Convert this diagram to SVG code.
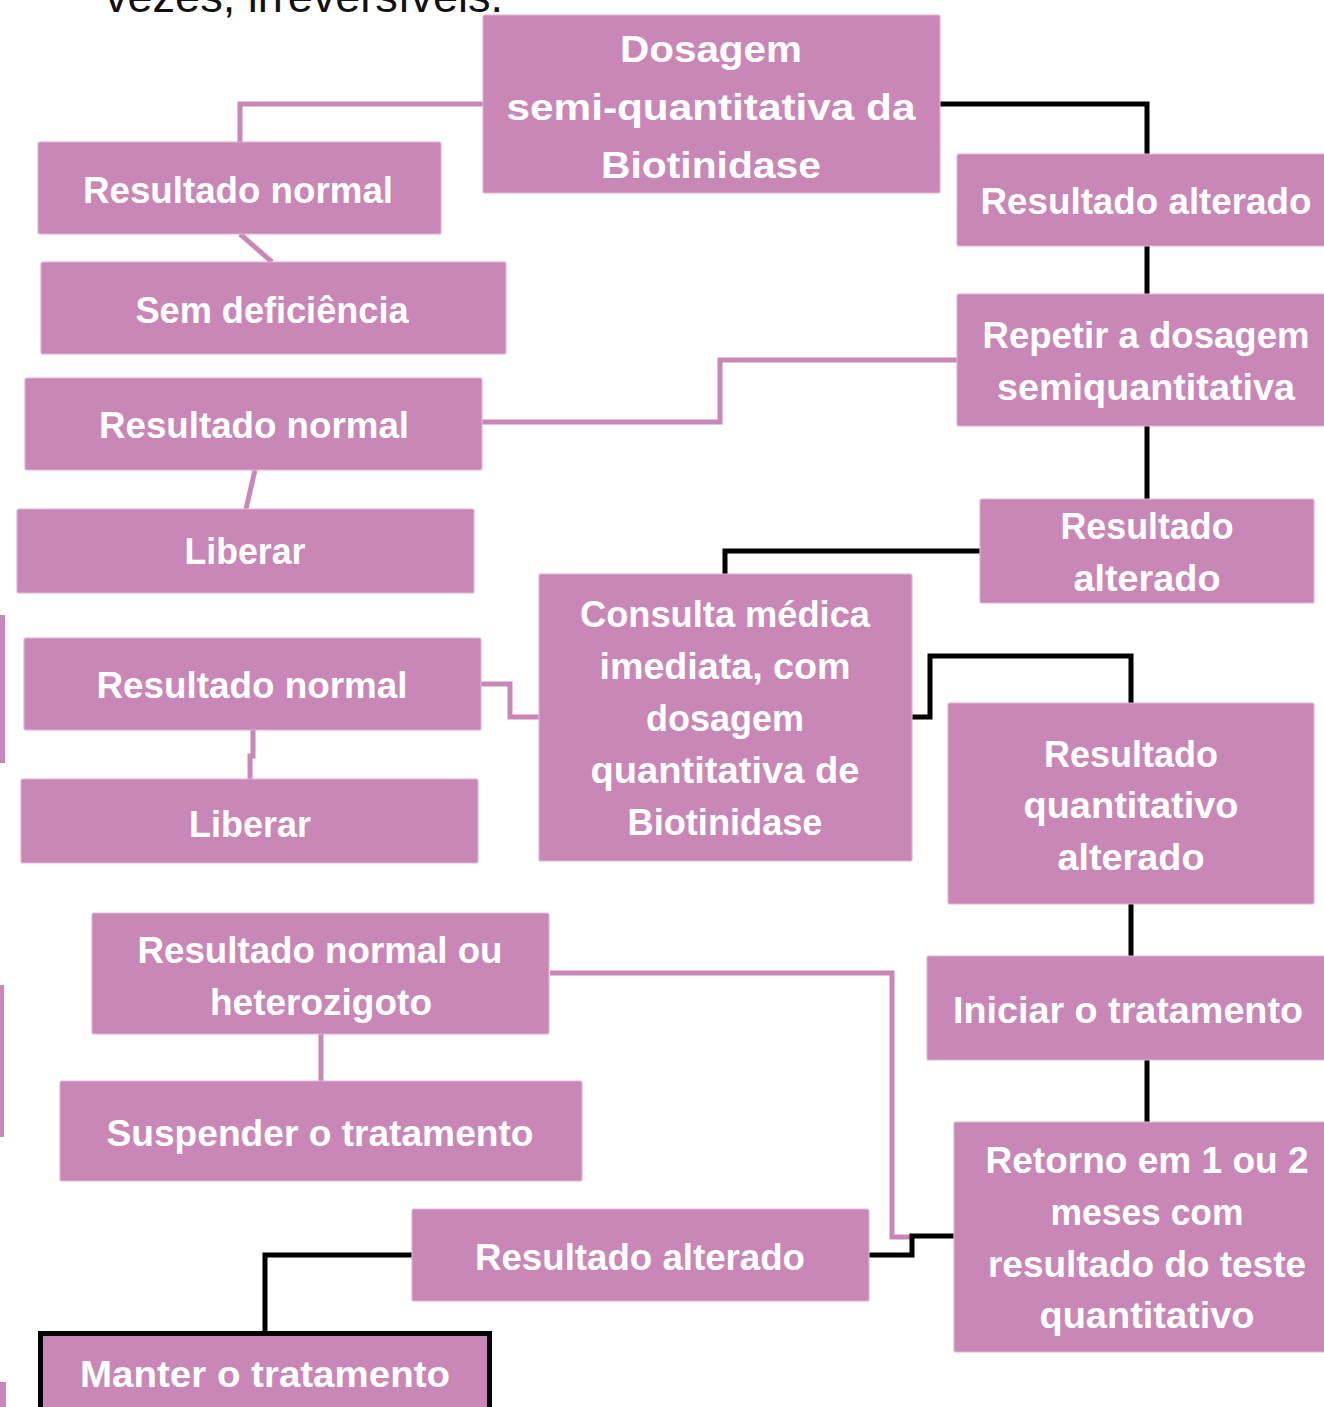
<svg xmlns="http://www.w3.org/2000/svg" width="1324" height="1407" viewBox="0 0 1324 1407">
<style>
.box{fill:#C987B7;stroke:#DDB3D1;stroke-width:1.2}
.t{font-family:"Liberation Sans",Arial,sans-serif;font-weight:bold;font-size:37px;fill:#FFFFFF;text-anchor:middle}
.pk{fill:none;stroke:#C987B7;stroke-width:5;stroke-linejoin:miter}
.bk{fill:none;stroke:#000000;stroke-width:5;stroke-linejoin:miter}
.frag{fill:#C987B7}
</style>
<rect x="0" y="0" width="1324" height="1407" fill="#FFFFFF"/>
<text x="105" y="12" font-family="'Liberation Sans',Arial,sans-serif" font-size="45" fill="#111111" textLength="398" lengthAdjust="spacingAndGlyphs">vezes, irreversíveis.</text>
<rect class="frag" x="0" y="615" width="5" height="148"/>
<rect class="frag" x="0" y="985" width="4" height="152"/>
<rect class="frag" x="0" y="1382" width="6" height="25"/>
<g id="connectors">
<path class="pk" d="M483,104 H240 V142"/>
<path class="pk" d="M240,234 L272,262"/>
<path class="pk" d="M957,360 H720 V422 H482"/>
<path class="pk" d="M255,470 L246,509"/>
<path class="pk" d="M481,684 H510 V717 H539"/>
<path class="pk" d="M253,730 V756 H250 V779"/>
<path class="pk" d="M550,973 H892 V1237 H912"/>
<path class="pk" d="M321,1034 V1081"/>
<path class="bk" d="M940,104 H1147 V154"/>
<path class="bk" d="M1147,246 V294"/>
<path class="bk" d="M1147,426 V499"/>
<path class="bk" d="M980,551 H725 V574"/>
<path class="bk" d="M912,717 H930 V656 H1131 V703"/>
<path class="bk" d="M1131,904 V956"/>
<path class="bk" d="M1147,1059 V1122"/>
<path class="bk" d="M954,1236 H912 V1255 H868"/>
<path class="bk" d="M412,1255 H265 V1332"/>
</g>
<g id="n-dosagem">
<rect class="box" x="483" y="15" width="457" height="178" rx="2"/>
<text class="t" x="711" y="62" textLength="182" lengthAdjust="spacingAndGlyphs">Dosagem</text>
<text class="t" x="711" y="120" textLength="409" lengthAdjust="spacingAndGlyphs">semi-quantitativa da</text>
<text class="t" x="711" y="178" textLength="220" lengthAdjust="spacingAndGlyphs">Biotinidase</text>
</g>
<g id="n-normal1">
<rect class="box" x="38" y="142" width="403" height="92" rx="2"/>
<text class="t" x="238" y="203" textLength="310" lengthAdjust="spacingAndGlyphs">Resultado normal</text>
</g>
<g id="n-semdef">
<rect class="box" x="41" y="262" width="465" height="92" rx="2"/>
<text class="t" x="272" y="323" textLength="273" lengthAdjust="spacingAndGlyphs">Sem deficiência</text>
</g>
<g id="n-normal2">
<rect class="box" x="25" y="378" width="457" height="92" rx="2"/>
<text class="t" x="254" y="438" textLength="310" lengthAdjust="spacingAndGlyphs">Resultado normal</text>
</g>
<g id="n-liberar1">
<rect class="box" x="17" y="509" width="457" height="84" rx="2"/>
<text class="t" x="245" y="564" textLength="121" lengthAdjust="spacingAndGlyphs">Liberar</text>
</g>
<g id="n-normal3">
<rect class="box" x="24" y="638" width="457" height="92" rx="2"/>
<text class="t" x="252" y="698" textLength="311" lengthAdjust="spacingAndGlyphs">Resultado normal</text>
</g>
<g id="n-liberar2">
<rect class="box" x="21" y="779" width="457" height="84" rx="2"/>
<text class="t" x="250" y="837" textLength="122" lengthAdjust="spacingAndGlyphs">Liberar</text>
</g>
<g id="n-heterozigoto">
<rect class="box" x="92" y="913" width="457" height="121" rx="2"/>
<text class="t" x="320" y="963" textLength="365" lengthAdjust="spacingAndGlyphs">Resultado normal ou</text>
<text class="t" x="321" y="1015" textLength="222" lengthAdjust="spacingAndGlyphs">heterozigoto</text>
</g>
<g id="n-suspender">
<rect class="box" x="60" y="1081" width="522" height="100" rx="2"/>
<text class="t" x="320" y="1146" textLength="427" lengthAdjust="spacingAndGlyphs">Suspender o tratamento</text>
</g>
<g id="n-alterado3">
<rect class="box" x="412" y="1209" width="457" height="92" rx="2"/>
<text class="t" x="640" y="1270" textLength="330" lengthAdjust="spacingAndGlyphs">Resultado alterado</text>
</g>
<g id="n-manter">
<rect x="40.5" y="1333.5" width="449" height="80" fill="#C987B7" stroke="#000000" stroke-width="5"/>
<text class="t" x="265" y="1387" textLength="370" lengthAdjust="spacingAndGlyphs">Manter o tratamento</text>
</g>
<g id="n-alterado1">
<rect class="box" x="957" y="154" width="372" height="92" rx="2"/>
<text class="t" x="1146" y="214" textLength="331" lengthAdjust="spacingAndGlyphs">Resultado alterado</text>
</g>
<g id="n-repetir">
<rect class="box" x="957" y="294" width="372" height="132" rx="2"/>
<text class="t" x="1146" y="348" textLength="327" lengthAdjust="spacingAndGlyphs">Repetir a dosagem</text>
<text class="t" x="1146" y="400" textLength="298" lengthAdjust="spacingAndGlyphs">semiquantitativa</text>
</g>
<g id="n-alterado2">
<rect class="box" x="980" y="499" width="334" height="104" rx="2"/>
<text class="t" x="1147" y="539" textLength="173" lengthAdjust="spacingAndGlyphs">Resultado</text>
<text class="t" x="1147" y="591" textLength="147" lengthAdjust="spacingAndGlyphs">alterado</text>
</g>
<g id="n-consulta">
<rect class="box" x="539" y="574" width="373" height="287" rx="2"/>
<text class="t" x="725" y="627" textLength="290" lengthAdjust="spacingAndGlyphs">Consulta médica</text>
<text class="t" x="725" y="679" textLength="251" lengthAdjust="spacingAndGlyphs">imediata, com</text>
<text class="t" x="725" y="731" textLength="158" lengthAdjust="spacingAndGlyphs">dosagem</text>
<text class="t" x="725" y="783" textLength="269" lengthAdjust="spacingAndGlyphs">quantitativa de</text>
<text class="t" x="725" y="835" textLength="195" lengthAdjust="spacingAndGlyphs">Biotinidase</text>
</g>
<g id="n-quantitativo">
<rect class="box" x="948" y="703" width="366" height="201" rx="2"/>
<text class="t" x="1131" y="767" textLength="174" lengthAdjust="spacingAndGlyphs">Resultado</text>
<text class="t" x="1131" y="818" textLength="215" lengthAdjust="spacingAndGlyphs">quantitativo</text>
<text class="t" x="1131" y="870" textLength="147" lengthAdjust="spacingAndGlyphs">alterado</text>
</g>
<g id="n-iniciar">
<rect class="box" x="927" y="956" width="402" height="104" rx="2"/>
<text class="t" x="1128" y="1023" textLength="350" lengthAdjust="spacingAndGlyphs">Iniciar o tratamento</text>
</g>
<g id="n-retorno">
<rect class="box" x="954" y="1122" width="375" height="230" rx="2"/>
<text class="t" x="1147" y="1173" textLength="323" lengthAdjust="spacingAndGlyphs">Retorno em 1 ou 2</text>
<text class="t" x="1147" y="1225" textLength="193" lengthAdjust="spacingAndGlyphs">meses com</text>
<text class="t" x="1147" y="1277" textLength="318" lengthAdjust="spacingAndGlyphs">resultado do teste</text>
<text class="t" x="1147" y="1328" textLength="215" lengthAdjust="spacingAndGlyphs">quantitativo</text>
</g>
</svg>
